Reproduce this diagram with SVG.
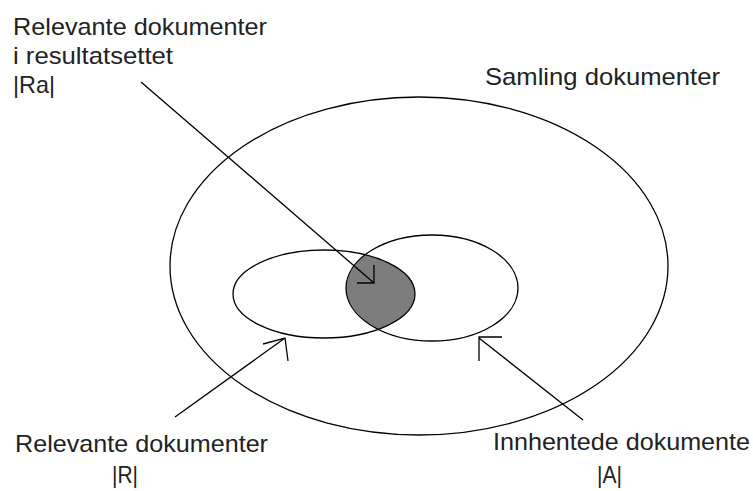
<svg xmlns="http://www.w3.org/2000/svg" width="753" height="491" viewBox="0 0 753 491">
<style>
.ln{fill:none;stroke:#000;stroke-width:1.3}
.t{font-family:"Liberation Sans",Arial,sans-serif;font-size:24px;fill:#222}
</style>
<defs>
<clipPath id="clipL"><ellipse cx="324" cy="294" rx="91" ry="44"/></clipPath>
</defs>
<rect width="753" height="491" fill="#fff"/>
<g id="collection">
<ellipse class="ln" cx="419" cy="266" rx="249" ry="169"/>
<text class="t" x="485" y="85" textLength="235" lengthAdjust="spacingAndGlyphs">Samling dokumenter</text>
</g>
<g id="ra">
<ellipse cx="432" cy="288" rx="86" ry="53" fill="#7d7d7d" clip-path="url(#clipL)"/>
</g>
<g id="relevant">
<ellipse class="ln" cx="324" cy="294" rx="91" ry="44"/>
</g>
<g id="retrieved">
<ellipse class="ln" cx="432" cy="288" rx="86" ry="53"/>
</g>
<g id="labels">
<text class="t" x="13" y="35" textLength="254" lengthAdjust="spacingAndGlyphs">Relevante dokumenter</text>
<text class="t" x="13" y="64" textLength="160" lengthAdjust="spacingAndGlyphs">i resultatsettet</text>
<text class="t" x="13" y="93" textLength="42" lengthAdjust="spacingAndGlyphs">|Ra|</text>
<text class="t" x="15" y="452" textLength="253" lengthAdjust="spacingAndGlyphs">Relevante dokumenter</text>
<text class="t" x="112" y="483" textLength="26" lengthAdjust="spacingAndGlyphs">|R|</text>
<text class="t" x="493" y="450" textLength="257" lengthAdjust="spacingAndGlyphs">Innhentede dokumente</text>
<text class="t" x="597" y="483" textLength="25" lengthAdjust="spacingAndGlyphs">|A|</text>
</g>
<g id="connectors">
<path class="ln" d="M141 82 L374 283 M357 283 H374 V265"/>
<path class="ln" d="M175 417 L285 338 M263 344 L285 338 L288 361"/>
<path class="ln" d="M583 420 L479 338 M502 337 H479 V361"/>
</g>
</svg>
